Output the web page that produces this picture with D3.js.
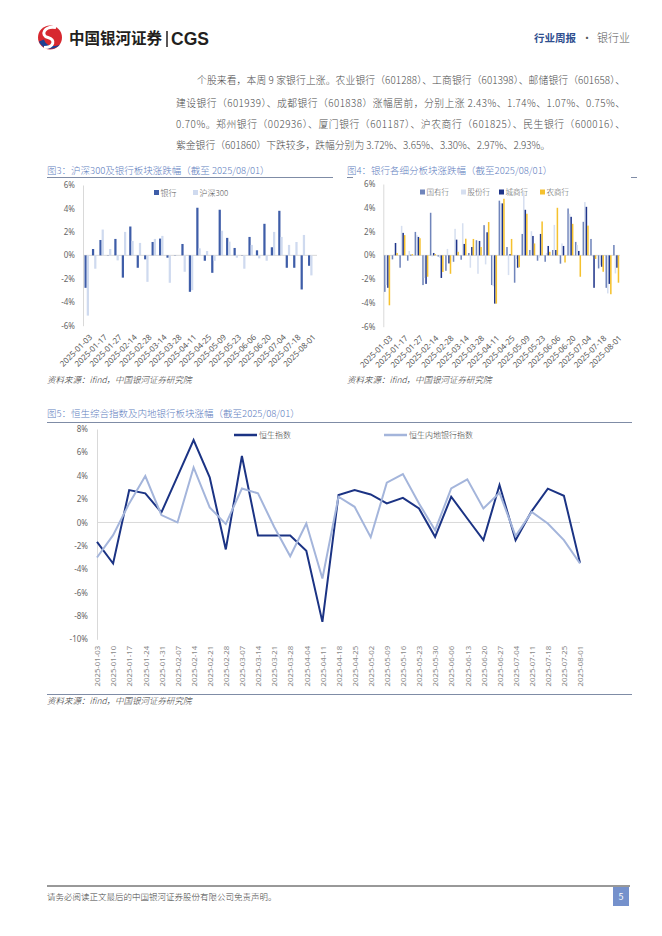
<!DOCTYPE html>
<html>
<head>
<meta charset="utf-8">
<script src="https://cdn.jsdelivr.net/npm/d3@7"></script>
<style>
  body { margin: 0; background: #fff; }
  svg text { font-family: "Noto Sans CJK SC", "Noto Sans", sans-serif; }
  .light { font-weight: 300; }
</style>
</head>
<body>
<svg id="page" width="662" height="936"></svg>
<script>
// weekly dates used by fig 3 and fig 4
const weeks = ['2025-01-03', '2025-01-10', '2025-01-17', '2025-01-24', '2025-01-27', '2025-02-07', '2025-02-14',
    '2025-02-21', '2025-02-28', '2025-03-07', '2025-03-14', '2025-03-21', '2025-03-28', '2025-04-03', '2025-04-11',
    '2025-04-18', '2025-04-25', '2025-04-30', '2025-05-09', '2025-05-16', '2025-05-23', '2025-05-30', '2025-06-06',
    '2025-06-13', '2025-06-20', '2025-06-27', '2025-07-04', '2025-07-11', '2025-07-18', '2025-07-25', '2025-08-01'];
const weekTicks = weeks.filter((d, i) => i % 2 === 0);

// fig 3
const bankChg = [-2.77, 0.54, 1.31, 0.02, 1.4, -1.9, 2.46, -1.06, -0.34, 1.14, 1.43, -0.2, 0.02, 0.97, -3.11, 4.06,
    -0.46, -1.49, 3.89, 1.49, 0.63, 0.02, 1.57, 0.43, 2.69, 0.69, 3.8, -1.06, -1.06, -2.91, -0.89];
const hs300Chg = [-5.14, -1.14, 2.2, 0.54, -0.43, 2.0, 1.23, 1.06, -2.26, 1.4, 1.66, -2.34, 0.02, -1.4, -2.97, 0.6,
    0.37, -0.46, 2.1, 1.17, -0.2, -1.14, 0.89, -0.26, -0.46, 2.0, 1.57, 0.89, 1.14, 1.74, -1.71];

// fig 4
const soeChg = [-3.07, -0.34, -1.04, -0.45, 1.97, -2.5, 3.58, -0.1, -1.3, -0.54, -0.37, 0.2, 1.27, 2.54, -2.5, 4.6,
    0.7, -2.3, 1.8, 0.45, -0.45, -0.54, 0.45, -0.7, 3.94, 1.13, 2.82, 1.38, -1.1, -2.73, 0.87];
const jointChg = [-2.5, 0.1, 2.48, 0.37, 1.7, -1.9, -0.1, -0.2, 0.54, 2.23, 2.7, -1.04, -1.55, -0.76, -2.6, 4.4,
    -1.66, -0.3, 5.3, 2.03, -0.2, 0.2, 2.56, 1.0, 3.5, 0.87, 4.48, -0.1, -0.8, -3.2, -1.52];
const cityChg = [-2.73, 1.04, 1.89, 0.05, 1.55, -2.4, 0.2, -1.9, -0.68, 1.32, 0.96, 0.7, 1.21, 1.94, -4.06, 4.37,
    0.1, -1.04, 3.83, 1.63, 1.8, 0.79, 0.45, 0.79, 3.24, 0.37, 4.08, -2.73, -0.96, -2.4, -1.04];
const ruralChg = [-4.2, 0.2, 1.7, 0.1, 1.44, -1.8, 0.1, -1.4, -1.55, 0.3, 1.4, 1.38, 0.7, 2.8, -4.06, 4.76,
    1.38, -1.0, 3.5, 1.0, 2.85, 0.3, 4.0, -0.6, 2.65, -1.8, 2.5, -0.3, -1.38, -3.27, -2.3];

// fig 5
const hkWeeks = ['2025-01-03', '2025-01-10', '2025-01-17', '2025-01-24', '2025-01-31', '2025-02-07', '2025-02-14',
    '2025-02-21', '2025-02-28', '2025-03-07', '2025-03-14', '2025-03-21', '2025-03-28', '2025-04-04', '2025-04-11',
    '2025-04-18', '2025-04-25', '2025-05-02', '2025-05-09', '2025-05-16', '2025-05-23', '2025-05-30', '2025-06-06',
    '2025-06-13', '2025-06-20', '2025-06-27', '2025-07-04', '2025-07-11', '2025-07-18', '2025-07-25', '2025-08-01'];
const hsiChg = [-1.66, -3.51, 2.77, 2.49, 0.86, 3.95, 7.06, 3.86, -2.31, 5.69, -1.11, -1.11, -1.11, -2.43, -8.51,
    2.34, 2.77, 2.4, 1.63, 2.11, 1.2, -1.23, 2.2, 0.34, -1.51, 3.2, -1.51, 0.97, 2.89, 2.29, -3.46];
const hsmbChg = [-3.0, -1.09, 1.63, 3.97, 0.63, 0.0, 4.71, 1.29, -0.14, 2.91, 2.49, -0.37, -2.89, -0.09, -4.8,
    2.2, 1.34, -1.26, 3.4, 4.14, 1.63, -0.66, 2.91, 3.69, 1.2, 2.54, -1.17, 0.91, -0.09, -1.51, -3.51];

const barTicks = [-6, -4, -2, 0, 2, 4, 6];
const lineTicks = [-10, -8, -6, -4, -2, 0, 2, 4, 6, 8];

const svg = d3.select('#page');
svg.append('rect').attr('width', 662).attr('height', 936).attr('fill', '#fff');

// ---------- header ----------
const logo = svg.append('g').attr('transform', 'translate(50,37.5)');
logo.append('circle').attr('r', 12).attr('fill', '#d7282f');
logo.append('path').attr('d', 'M-11,4 C-8,12 4,14 10,7 C4,10 -4,9 -6,2 Z').attr('fill', '#1e3f93');
logo.append('path').attr('d', 'M6,-10 C-6,-12 -10,-2 -2,0 C6,2 4,10 -6,10')
    .attr('fill', 'none').attr('stroke', '#fff').attr('stroke-width', 3);

svg.append('text').attr('x', 69).attr('y', 44).attr('font-size', 15.5).attr('font-weight', 'bold')
    .attr('fill', '#231f20').text('中国银河证券');
svg.append('line').attr('x1', 167).attr('x2', 167).attr('y1', 31).attr('y2', 47)
    .attr('stroke', '#231f20').attr('stroke-width', 1.5);
svg.append('text').attr('x', 171).attr('y', 45).attr('font-size', 17.5).attr('font-weight', 'bold')
    .style('font-family', '"Liberation Sans", Arial, sans-serif').attr('fill', '#231f20').text('CGS');

svg.append('text').attr('x', 534).attr('y', 42).attr('font-size', 10.5).attr('font-weight', 'bold')
    .attr('fill', '#2f4f8f').text('行业周报');
svg.append('text').attr('x', 587).attr('y', 42).attr('font-size', 10.5).attr('fill', '#555')
    .attr('text-anchor', 'middle').text('·');
svg.append('text').attr('x', 597).attr('y', 42).attr('font-size', 11).attr('fill', '#555')
    .attr('class', 'light').text('银行业');

// ---------- paragraph ----------
const para = [
    { x: 197, y: 84, t: '个股来看，本周 9 家银行上涨。农业银行（601288）、工商银行（601398）、邮储银行（601658）、', full: true },
    { x: 176, y: 107, t: '建设银行（601939）、成都银行（601838）涨幅居前，分别上涨 2.43%、1.74%、1.07%、0.75%、', full: true },
    { x: 176, y: 128, t: '0.70%。郑州银行（002936）、厦门银行（601187）、沪农商行（601825）、民生银行（600016）、', full: true },
    { x: 176, y: 149, t: '紫金银行（601860）下跌较多，跌幅分别为 3.72%、3.65%、3.30%、2.97%、2.93%。', full: false }
];
para.forEach(p => {
    const t = svg.append('text').attr('x', p.x).attr('y', p.y).attr('font-size', 9.8)
        .attr('class', 'light').attr('fill', '#4a4a4a').text(p.t);
    if (p.full) t.attr('textLength', 625 - p.x).attr('lengthAdjust', 'spacing');
});

// ---------- titles / sources ----------
function title(x, y, txt) {
    svg.append('text').attr('x', x).attr('y', y).attr('font-size', 9.5).attr('class', 'light')
        .attr('fill', '#5f80c0').text(txt);
}
function source(x, y) {
    svg.append('text').attr('x', x).attr('y', y).attr('font-size', 8.5).attr('font-style', 'italic')
        .attr('class', 'light').attr('fill', '#333').text('资料来源：ifind，中国银河证券研究院');
}
title(47, 173.5, '图3：沪深300及银行板块涨跌幅（截至 2025/08/01）');
title(347, 173.5, '图4：银行各细分板块涨跌幅（截至2025/08/01）');
svg.append('line').attr('x1', 47).attr('x2', 333).attr('y1', 177.5).attr('y2', 177.5)
    .attr('stroke', '#7f8ca6').attr('stroke-width', 1);
svg.append('line').attr('x1', 347).attr('x2', 353).attr('y1', 177.5).attr('y2', 177.5)
    .attr('stroke', '#7f8ca6').attr('stroke-width', 1);
svg.append('line').attr('x1', 631).attr('x2', 637).attr('y1', 177.5).attr('y2', 177.5)
    .attr('stroke', '#7f8ca6').attr('stroke-width', 1);
source(47, 383);
source(347, 383);

title(47, 416.5, '图5：恒生综合指数及内地银行板块涨幅（截至2025/08/01）');
svg.append('line').attr('x1', 47).attr('x2', 632).attr('y1', 422.5).attr('y2', 422.5)
    .attr('stroke', '#7f8ca6').attr('stroke-width', 1);
svg.append('line').attr('x1', 47).attr('x2', 632).attr('y1', 694.5).attr('y2', 694.5)
    .attr('stroke', '#7f8ca6').attr('stroke-width', 1);
source(47, 704);

// ---------- bar charts ----------
function barChart(cfg) {
    const g = svg.append('g');
    const x0 = d3.scaleBand().domain(weeks).range([cfg.left, cfg.right])
        .paddingInner(cfg.padIn).paddingOuter(cfg.padOut);
    const x1 = d3.scaleBand().domain(cfg.series.map(s => s.name)).range([0, x0.bandwidth()]);
    const y = d3.scaleLinear().domain([-6, 6]).range([cfg.bottom, cfg.top]);

    const yAxis = g.append('g').attr('transform', `translate(${cfg.left},0)`)
        .call(d3.axisLeft(y).tickValues(barTicks).tickSize(0).tickSizeOuter(0).tickPadding(8)
            .tickFormat(d => d + '%'));
    yAxis.select('.domain').attr('stroke', '#d9d9d9');
    yAxis.selectAll('text').attr('font-size', 8).attr('fill', '#666').style('font-family', '"Noto Sans", sans-serif');

    g.append('line').attr('x1', cfg.left).attr('x2', cfg.zeroEnd).attr('y1', y(0)).attr('y2', y(0))
        .attr('stroke', '#d9d9d9');

    cfg.series.forEach(s => {
        g.append('g').selectAll('rect').data(s.values).enter().append('rect')
            .attr('x', (d, i) => x0(weeks[i]) + x1(s.name))
            .attr('y', d => y(Math.max(0, d)))
            .attr('width', x1.bandwidth())
            .attr('height', d => Math.abs(y(d) - y(0)))
            .attr('fill', s.color);
    });

    const xAxis = g.append('g').attr('transform', `translate(0,${cfg.bottom})`)
        .call(d3.axisBottom(x0).tickValues(weekTicks).tickSize(0));
    xAxis.select('.domain').remove();
    xAxis.selectAll('text')
        .attr('y', 0).attr('dy', '0.35em')
        .attr('transform', 'translate(4,10) rotate(-45)')
        .style('text-anchor', 'end')
        .attr('font-size', 8).attr('fill', '#595959').style('font-family', '"Noto Sans", sans-serif');

    cfg.series.forEach(s => {
        g.append('rect').attr('x', s.lx).attr('y', cfg.legendY - 2.5).attr('width', 5).attr('height', 5)
            .attr('fill', s.color);
        g.append('text').attr('x', s.lx + 6.5).attr('y', cfg.legendY + 3).attr('font-size', cfg.legendSize)
            .attr('class', 'light').attr('fill', '#595959').text(s.name);
    });
}

barChart({
    left: 83, right: 314, zeroEnd: 317, top: 185, bottom: 325.7, padIn: 0.4, padOut: 0.2,
    legendY: 192.5, legendSize: 8,
    series: [
        { name: '银行', values: bankChg, color: '#3e5da8', lx: 154 },
        { name: '沪深300', values: hs300Chg, color: '#cfdaef', lx: 193 }
    ]
});

barChart({
    left: 383.3, right: 620, zeroEnd: 620, top: 184, bottom: 326.7, padIn: 0.2, padOut: 0.1,
    legendY: 192, legendSize: 7.5,
    series: [
        { name: '国有行', values: soeChg, color: '#7085bb', lx: 420 },
        { name: '股份行', values: jointChg, color: '#d6dff0', lx: 461 },
        { name: '城商行', values: cityChg, color: '#1f358a', lx: 499 },
        { name: '农商行', values: ruralChg, color: '#f5c12e', lx: 540 }
    ]
});

// ---------- line chart ----------
(function lineChart() {
    const g = svg.append('g');
    const left = 97, right = 580, top = 429, bottom = 639.3;
    const x = d3.scalePoint().domain(hkWeeks).range([left, right]);
    const y = d3.scaleLinear().domain([-10, 8]).range([bottom, top]);

    const yAxis = g.append('g').attr('transform', `translate(${left},0)`)
        .call(d3.axisLeft(y).tickValues(lineTicks).tickSize(0).tickSizeOuter(0).tickPadding(9)
            .tickFormat(d => d + '%'));
    yAxis.select('.domain').attr('stroke', '#d9d9d9');
    yAxis.selectAll('text').attr('font-size', 8).attr('fill', '#666').style('font-family', '"Noto Sans", sans-serif');

    g.append('line').attr('x1', left).attr('x2', right).attr('y1', y(0)).attr('y2', y(0))
        .attr('stroke', '#d9d9d9');

    const line = d3.line().x((d, i) => x(hkWeeks[i])).y(d => y(d));
    g.append('path').datum(hsiChg).attr('d', line).attr('fill', 'none')
        .attr('stroke', '#1b3384').attr('stroke-width', 2);
    g.append('path').datum(hsmbChg).attr('d', line).attr('fill', 'none')
        .attr('stroke', '#a4b5db').attr('stroke-width', 2);

    const xAxis = g.append('g').attr('transform', `translate(0,${bottom})`)
        .call(d3.axisBottom(x).tickSize(0));
    xAxis.select('.domain').remove();
    xAxis.selectAll('text')
        .attr('y', 0).attr('dy', '0.35em')
        .attr('transform', 'translate(0,6.5) rotate(-90)')
        .style('text-anchor', 'end')
        .attr('font-size', 7.8).attr('fill', '#8a8a8a').style('font-family', '"Noto Sans", sans-serif');

    const legend = [
        { name: '恒生指数', color: '#1b3384', x: 234 },
        { name: '恒生内地银行指数', color: '#a4b5db', x: 384 }
    ];
    legend.forEach(l => {
        g.append('line').attr('x1', l.x).attr('x2', l.x + 23).attr('y1', 435).attr('y2', 435)
            .attr('stroke', l.color).attr('stroke-width', 2.5);
        g.append('text').attr('x', l.x + 25).attr('y', 438).attr('font-size', 8)
            .attr('class', 'light').attr('fill', '#404040').text(l.name);
    });
})();

// ---------- footer ----------
svg.append('line').attr('x1', 47).attr('x2', 630).attr('y1', 886).attr('y2', 886)
    .attr('stroke', '#333').attr('stroke-width', 1);
svg.append('text').attr('x', 47).attr('y', 900).attr('font-size', 8.5).attr('class', 'light')
    .attr('fill', '#444').text('请务必阅读正文最后的中国银河证券股份有限公司免责声明。');
svg.append('rect').attr('x', 613).attr('y', 887).attr('width', 16).attr('height', 19).attr('fill', '#7591cc');
svg.append('text').attr('x', 621).attr('y', 900).attr('font-size', 9).attr('fill', '#fff')
    .attr('text-anchor', 'middle').text('5');
</script>
</body>
</html>
